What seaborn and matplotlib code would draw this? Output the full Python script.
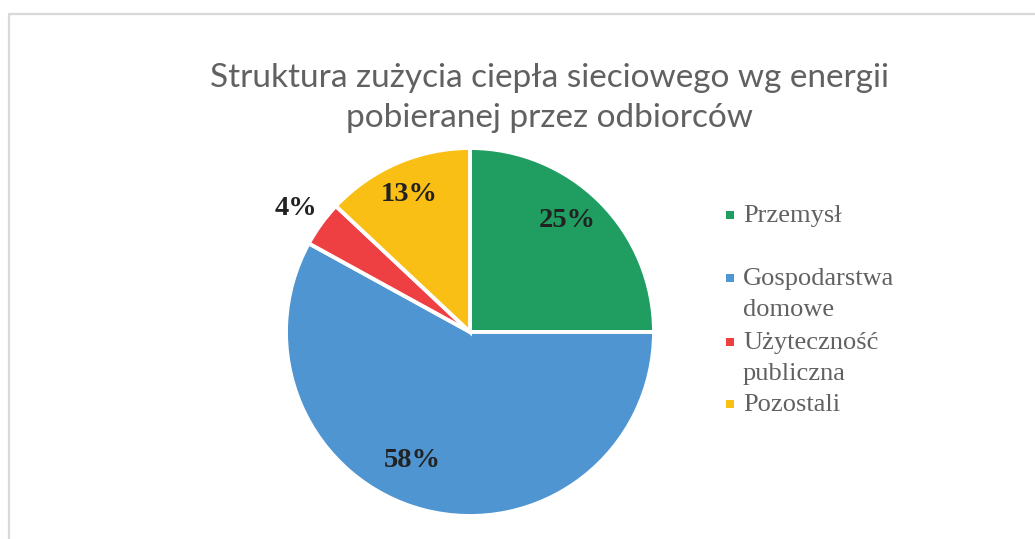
import numpy as np
import matplotlib
matplotlib.use("Agg")
import matplotlib.pyplot as plt
from matplotlib.patches import Rectangle
from matplotlib.lines import Line2D
import seaborn as sns

sns.set_theme(style="white")

# ---- data ----
title = "Struktura zużycia ciepła sieciowego wg energii\npobieranej przez odbiorców"
categories = ["Przemysł", "Gospodarstwa\ndomowe", "Użyteczność\npubliczna", "Pozostali"]
values = [25, 58, 4, 13]
pct_labels = ["25%", "58%", "4%", "13%"]
colors = ["#209D61", "#4F95D2", "#EE4042", "#FABF14"]
# label placement (radial fraction of radius, angular shift in degrees)
label_dist = [0.814, 0.751, 1.17, 0.83]
label_shift = [4.6, -10.2, 0.0, 0.0]

W, H = 1035, 539
fig = plt.figure(figsize=(W / 100, H / 100), dpi=100)
fig.patch.set_facecolor("white")

# frame lines (top and left visible)
fig.add_artist(Line2D([9 / W, 9 / W], [0, 1 - 14 / H], transform=fig.transFigure,
                      color="#d9d9d9", lw=1.6))
fig.add_artist(Line2D([9 / W, 1], [1 - 14 / H, 1 - 14 / H], transform=fig.transFigure,
                      color="#d9d9d9", lw=1.6))

# pie axes
cx, cy, r = 470, 332, 184
ax = fig.add_axes([(cx - r) / W, (H - cy - r) / H, 2 * r / W, 2 * r / H])
wedges, _ = ax.pie(values, colors=colors, startangle=90, counterclock=False,
                   wedgeprops=dict(edgecolor="white", linewidth=2.8))
ax.set_xlim(-1, 1)
ax.set_ylim(-1, 1)
ax.set_aspect("equal")
ax.axis("off")

for w, lab, d, s in zip(wedges, pct_labels, label_dist, label_shift):
    ang = np.deg2rad((w.theta1 + w.theta2) / 2 + s)
    ax.text(d * np.cos(ang), d * np.sin(ang), lab, ha="center", va="center_baseline",
            fontsize=20.5, fontweight="bold", family="Liberation Serif", color="#222222")

# title
fig.text(550 / W, 1 - 98 / H, title, ha="center", va="center", fontsize=24,
         family="Lato", color="#616161", linespacing=1.38)

# legend (manual)
slot_y = [215, 278, 342, 404]
for lab, col, y in zip(categories, colors, slot_y):
    fig.add_artist(Rectangle(((729.5 - 4) / W, 1 - (y + 4) / H), 8 / W, 8 / H,
                             transform=fig.transFigure, facecolor=col, edgecolor="none"))
    fig.text(743 / W, 1 - (y - 10) / H, lab, ha="left", va="top", fontsize=19,
             family="Liberation Serif", color="#616161", linespacing=1.55)

fig.savefig("out.png", dpi=100, facecolor="white")
